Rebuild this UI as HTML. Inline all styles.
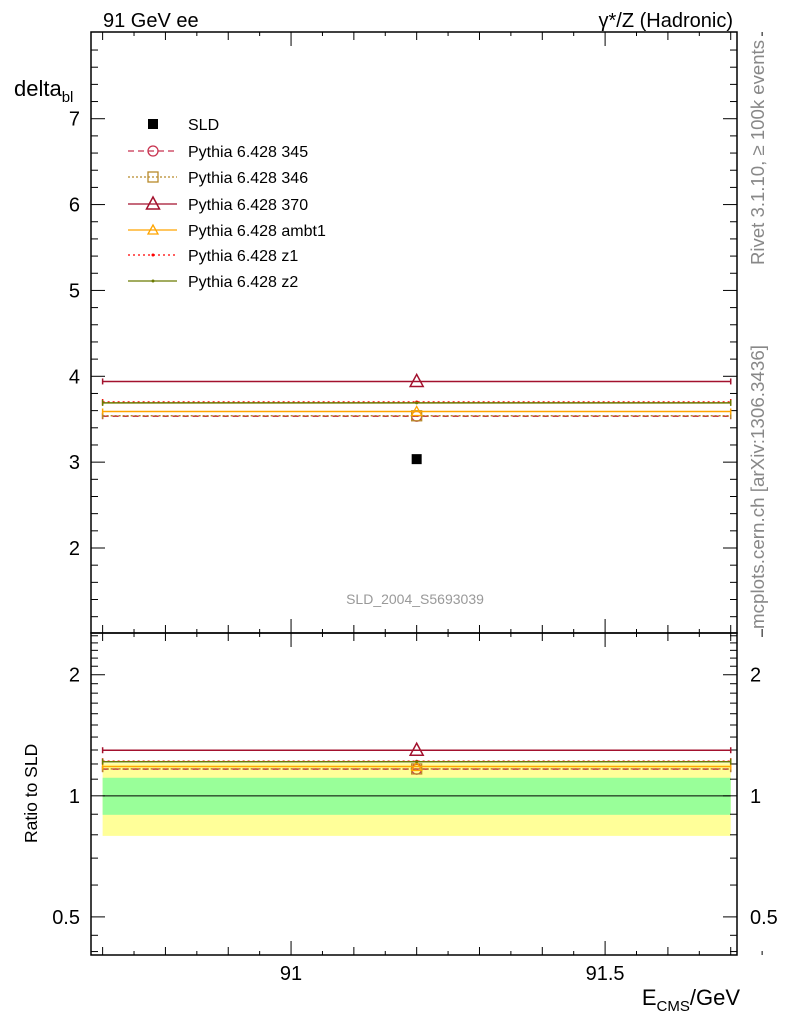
<!DOCTYPE html>
<html><head><meta charset="utf-8"><style>
body{margin:0;background:#fff;font-family:"Liberation Sans",sans-serif}
svg text{font-family:"Liberation Sans","DejaVu Sans",sans-serif}
</style></head><body>
<svg id="c" width="786" height="1024" xmlns="http://www.w3.org/2000/svg">
<text x="103" y="27" font-size="20">91 GeV ee</text>
<text x="733" y="27" font-size="20" text-anchor="end">γ*/Z (Hadronic)</text>
<text x="14" y="96" font-size="22">delta<tspan font-size="15" dy="6">bl</tspan></text>
<text transform="translate(37,843) rotate(-90)" font-size="17.5">Ratio to SLD</text>
<text x="740" y="1005" font-size="22" text-anchor="end">E<tspan font-size="15" dy="6">CMS</tspan><tspan dy="-6">/GeV</tspan></text>
<text transform="translate(764,265) rotate(-90)" font-size="18.5" fill="#888" textLength="225" lengthAdjust="spacingAndGlyphs">Rivet 3.1.10, ≥ 100k events</text>
<text transform="translate(764,629) rotate(-90)" font-size="18.5" fill="#888" textLength="284" lengthAdjust="spacingAndGlyphs">mcplots.cern.ch [arXiv:1306.3436]</text>
<text x="415" y="604" font-size="14" fill="#999" text-anchor="middle">SLD_2004_S5693039</text>
<g id="g"></g>
</svg>
<script>
const categories=["91.2"];
const xLo=[90.7], xHi=[91.7], xC=[91.2];
const seriesNames=["SLD","Pythia 6.428 345","Pythia 6.428 346","Pythia 6.428 370","Pythia 6.428 ambt1","Pythia 6.428 z1","Pythia 6.428 z2"];
const dataVal=[3.035];
const v345=[3.535], v346=[3.54], v370=[3.94], vAmbt1=[3.59], vZ1=[3.70], vZ2=[3.69];
const bandInner=[0.897,1.109], bandOuter=[0.795,1.205];
const yTicks=[2,3,4,5,6,7], xTicks=[91,91.5], rTicks=[0.5,1,2];
const NS="http://www.w3.org/2000/svg", G=document.getElementById('g');
const L=91,R=737,T=32,B=633,RB=955;
const XMIN=90.6815, XMAX=91.710;
const X=v=>L+(v-XMIN)/(XMAX-XMIN)*(R-L);
const Y=v=>B-(v-1.01)/(8.01-1.01)*(B-T);
const RY=v=>B+(Math.log(2.54)-Math.log(v))/(Math.log(2.54)-Math.log(0.402))*(RB-B);
function el(t,a,p){const e=document.createElementNS(NS,t);for(const k in a)e.setAttribute(k,a[k]);(p||G).appendChild(e);return e;}
let b=el('rect',{x:X(xLo[0]),y:RY(bandOuter[1]),width:X(xHi[0])-X(xLo[0]),height:RY(bandOuter[0])-RY(bandOuter[1]),fill:'#ffff99'});


b=el('rect',{x:X(xLo[0]),y:RY(bandInner[1]),width:X(xHi[0])-X(xLo[0]),height:RY(bandInner[0])-RY(bandInner[1]),fill:'#99ff99'});


let ln=el('line',{x1:X(xLo[0]),x2:X(xHi[0]),y1:RY(1),y2:RY(1),stroke:'#000','stroke-width':1});


for(const [y0,y1,n] of [[T,B,'main-frame'],[B,RB,'ratio-frame']]){
 const f=el('rect',{x:L,y:y0,width:R-L,height:y1-y0,fill:'none',stroke:'#000','stroke-width':1.5});
 
 
}
for(let i=0;i<=21;i++){const v=90.7+i*0.05;const m=i%2===0;const maj=(i===6||i===16);const len=maj?14:(m?8:4);
 for(const [y0,y1] of [[T,B],[B,RB]]){el('line',{x1:X(v),x2:X(v),y1:y1,y2:y1-len,stroke:'#000'});el('line',{x1:X(v),x2:X(v),y1:y0,y2:y0+len,stroke:'#000'});}}
xTicks.forEach(v=>{const t=el('text',{x:X(v),y:980,'font-size':20,'text-anchor':'middle'});t.textContent=String(v);
 
 });
for(let v=1.2;v<8;v+=0.2){const maj=Math.abs(v-Math.round(v))<0.01;const len=maj?14:7;
 el('line',{x1:L,x2:L+len,y1:Y(v),y2:Y(v),stroke:'#000'});el('line',{x1:R,x2:R-len,y1:Y(v),y2:Y(v),stroke:'#000'});}
yTicks.forEach(v=>{const t=el('text',{x:80,y:Y(v)+7,'font-size':20,'text-anchor':'end'});t.textContent=String(v);
 
 });
const rMinor=[0.5,0.6,0.7,0.8,0.9,1,1.1,1.2,1.3,1.4,1.5,1.6,1.7,1.8,1.9,2,2.1,2.2,2.3,2.4,2.5,0.45,0.41];
rMinor.forEach(v=>{const maj=rTicks.includes(v);const len=maj?14:7;
 el('line',{x1:L,x2:L+len,y1:RY(v),y2:RY(v),stroke:'#000'});el('line',{x1:R,x2:R-len,y1:RY(v),y2:RY(v),stroke:'#000'});});
rTicks.forEach(v=>{for(const [x,a] of [[80,'end'],[750,'start']]){const t=el('text',{x:x,y:RY(v)+7,'font-size':20,'text-anchor':a});t.textContent=String(v);
 
 }});
const styles=[
 {vals:v345,c:'#c8324f',d:'6,4',m:'circle',n:'series-345'},
 {vals:v346,c:'#b88a2a',d:'2,2',m:'square',n:'series-346'},
 {vals:v370,c:'#a3112d',d:'',m:'tri',n:'series-370'},
 {vals:vAmbt1,c:'#ffa500',d:'',m:'tris',n:'series-ambt1'},
 {vals:vZ1,c:'#ff0000',d:'2,3',m:'dot',n:'series-z1'},
 {vals:vZ2,c:'#6b7a00',d:'',m:'dot',n:'series-z2'}];
function marker(m,x,y,c,par){
 if(m==='circle')return el('circle',{cx:x,cy:y,r:5,fill:'none',stroke:c,'stroke-width':1.3},par);
 if(m==='square')return el('rect',{x:x-5,y:y-5,width:10,height:10,fill:'none',stroke:c,'stroke-width':1.3},par);
 if(m==='tri')return el('polygon',{points:`${x},${y-7} ${x-6.5},${y+5} ${x+6.5},${y+5}`,fill:'none',stroke:c,'stroke-width':1.5},par);
 if(m==='tris')return el('polygon',{points:`${x},${y-5} ${x-5},${y+4} ${x+5},${y+4}`,fill:'none',stroke:c,'stroke-width':1.3},par);
 return el('circle',{cx:x,cy:y,r:1.5,fill:c},par);
}
styles.forEach(s=>{
 for(const [fy,val,lab] of [[Y,s.vals[0],'main'],[RY,s.vals[0]/dataVal[0],'ratio']]){
  const gg=el('g',{});
  
  
  const y=fy(val);
  el('line',{x1:X(xLo[0]),x2:X(xHi[0]),y1:y,y2:y,stroke:s.c,'stroke-width':1.5,'stroke-dasharray':s.d},gg);
  el('line',{x1:X(xLo[0]),x2:X(xLo[0]),y1:y-3,y2:y+3,stroke:s.c,'stroke-width':1.5},gg);
  el('line',{x1:X(xHi[0]),x2:X(xHi[0]),y1:y-3,y2:y+3,stroke:s.c,'stroke-width':1.5},gg);
  marker(s.m,X(xC[0]),y,s.c,gg);
 }
});
const dp=el('rect',{x:X(xC[0])-5,y:Y(dataVal[0])-5,width:10,height:10,fill:'#000'});


const legY=[124,151,177,204,230,255,281];
seriesNames.forEach((n,i)=>{
 const gg=el('g',{});
 
 
 const y=legY[i];
 if(i===0){el('rect',{x:148,y:y-5,width:10,height:10,fill:'#000'},gg);}
 else{const s=styles[i-1];el('line',{x1:128,x2:177,y1:y,y2:y,stroke:s.c,'stroke-width':1.3,'stroke-dasharray':s.d},gg);marker(s.m,153,y,s.c,gg);}
 const t=el('text',{x:188,y:y+6,'font-size':16},gg);t.textContent=n;
});
</script>
</body></html>
